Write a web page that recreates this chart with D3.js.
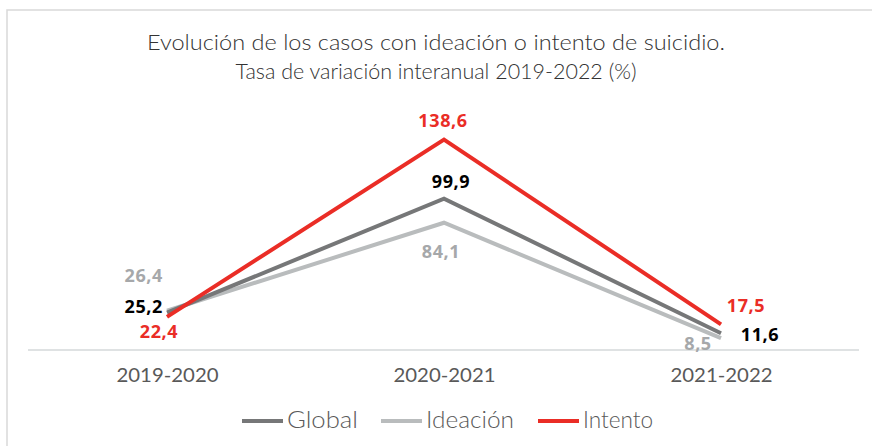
<!DOCTYPE html>
<html>
<head>
<meta charset="utf-8">
<script src="https://cdn.jsdelivr.net/npm/d3@7"></script>
<style>
  body { margin: 0; background: #fff; }
  svg { display: block; }
</style>
</head>
<body>
<div id="chart"></div>
<script>
// datos
const periods = ["2019-2020", "2020-2021", "2021-2022"];
const global = [25.2, 99.9, 11.6];
const ideacion = [26.4, 84.1, 8.5];
const intento = [22.4, 138.6, 17.5];
const seriesNames = ["Global", "Ideación", "Intento"];
const seriesColors = ["#767778", "#b9bcbd", "#ea2d26"];
const labelColors = ["#000000", "#a6a8aa", "#ea2d26"];
const titleLines = ["Evolución de los casos con ideación o intento de suicidio.",
                    "Tasa de variación interanual 2019-2022 (%)"];

const W = 872, H = 446;
const textFont = "Lato, 'Open Sans', sans-serif";

const svg = d3.select("#chart").append("svg")
  .attr("width", W)
  .attr("height", H);

// marco
svg.append("rect")
  .attr("x", 7).attr("y", 10)
  .attr("width", 900).attr("height", 500)
  .attr("fill", "none")
  .attr("stroke", "#d9d9d9")
  .attr("stroke-width", 1.5);

// titulo
svg.selectAll("text.title")
  .data(titleLines)
  .enter().append("text")
  .attr("class", "title")
  .attr("x", 436)
  .attr("y", (d, i) => i == 0 ? 50 : 79)
  .attr("text-anchor", "middle")
  .attr("font-family", textFont)
  .attr("font-weight", 300)
  .attr("font-size", 22)
  .attr("fill", "#333333")
  .attr("textLength", (d, i) => i == 0 ? 578 : 401)
  .attr("lengthAdjust", "spacingAndGlyphs")
  .text(d => d);

const x = d3.scalePoint()
  .domain(periods)
  .range([167, 721]);

const y = d3.scaleLinear()
  .domain([0, 160])
  .range([351, 107]);

// eje x
const xAxis = svg.append("g")
  .attr("transform", "translate(0,350)")
  .call(d3.axisBottom(x).tickSize(0).tickPadding(19));
xAxis.select(".domain").remove();
xAxis.append("line")
  .attr("x1", 28).attr("x2", 859)
  .attr("stroke", "#d5d8da")
  .attr("stroke-width", 1.5);
xAxis.selectAll(".tick text")
  .attr("font-family", textFont)
  .attr("font-size", 19)
  .attr("fill", "#595959")
  .attr("textLength", 102)
  .attr("lengthAdjust", "spacingAndGlyphs");

const series = [global, ideacion, intento];
// orden de dibujo: ideacion, global, intento
const drawOrder = [1, 0, 2];

const line = d3.line()
  .x((d, i) => x(periods[i]))
  .y(d => y(d));

drawOrder.forEach(k => {
  svg.append("path")
    .datum(series[k])
    .attr("fill", "none")
    .attr("stroke", seriesColors[k])
    .attr("stroke-width", 4)
    .attr("stroke-linejoin", "miter")
    .attr("d", line);
});

// etiquetas de datos: desplazamientos relativos al punto
const labelOffsets = [
  [[-4, 0, "end"], [7, -11, "middle"], [39, 8, "middle"]],      // Global
  [[-4, -29, "end"], [-3, 35, "middle"], [-23, 12, "middle"]],  // Ideacion
  [[-8, 21, "middle"], [-1, -13, "middle"], [25, -12, "middle"]] // Intento
];

series.forEach((vals, k) => {
  vals.forEach((v, i) => {
    const o = labelOffsets[k][i];
    svg.append("text")
      .attr("x", x(periods[i]) + o[0])
      .attr("y", y(v) + o[1])
      .attr("text-anchor", o[2])
      .attr("font-family", "'Open Sans', sans-serif")
      .attr("font-weight", "bold")
      .attr("font-size", 18)
      .attr("letter-spacing", 0.6)
      .attr("fill", labelColors[k])
      .text(d3.format(".1f")(v).replace(".", ","));
  });
});

// leyenda
const legendX = [242, 381, 538];
const legendW = [71, 88, 70];
const legend = svg.selectAll("g.legend")
  .data(seriesNames)
  .enter().append("g")
  .attr("class", "legend")
  .attr("transform", (d, i) => "translate(" + legendX[i] + ",421)");
legend.append("line")
  .attr("x1", 0).attr("x2", 41)
  .attr("stroke", (d, i) => seriesColors[i])
  .attr("stroke-width", 4);
legend.append("text")
  .attr("x", 45)
  .attr("y", 7)
  .attr("font-family", textFont)
  .attr("font-weight", 300)
  .attr("font-size", 23)
  .attr("fill", "#595959")
  .attr("textLength", (d, i) => legendW[i])
  .attr("lengthAdjust", "spacingAndGlyphs")
  .text(d => d);
</script>
</body>
</html>
